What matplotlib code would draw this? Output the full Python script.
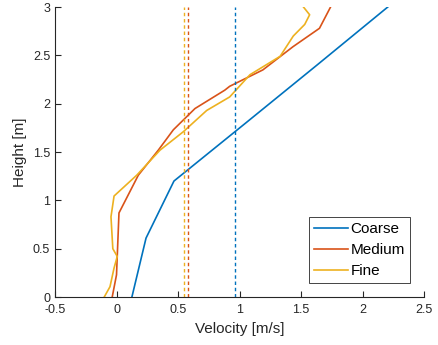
import matplotlib
matplotlib.use("Agg")
import matplotlib.pyplot as plt

plt.rcParams["font.family"] = ["Liberation Sans", "DejaVu Sans"]

# velocity profiles
coarse_v = [0.125, 0.24, 0.467, 1.05, 1.63, 2.205]
coarse_h = [0.0, 0.61, 1.20, 1.80, 2.40, 3.0]

medium_v = [-0.035, 0.0, 0.02, 0.177, 0.34, 0.462, 0.638, 0.88, 0.92, 1.19, 1.435, 1.65, 1.74]
medium_h = [0.0, 0.23, 0.87, 1.26, 1.52, 1.73, 1.95, 2.14, 2.18, 2.35, 2.59, 2.78, 3.0]

fine_v = [-0.10, -0.053, -0.02, 0.006, -0.03, -0.045, -0.02, 0.164, 0.354, 0.543, 0.733,
          0.92, 1.085, 1.33, 1.437, 1.53, 1.57, 1.52]
fine_h = [0.0, 0.107, 0.30, 0.42, 0.50, 0.83, 1.045, 1.26, 1.52, 1.71, 1.93,
          2.07, 2.30, 2.49, 2.70, 2.82, 2.92, 3.0]

# mean velocities (dashed lines)
mean_v = {"Coarse": 0.963, "Medium": 0.579, "Fine": 0.549}

colors = {"Coarse": "#0072BD", "Medium": "#D95319", "Fine": "#EDB120"}

fig = plt.figure(figsize=(4.38, 3.45), dpi=100)
ax = fig.add_axes([0.1256, 0.139, 0.8425, 0.8406])

ax.plot(coarse_v, coarse_h, color=colors["Coarse"], lw=1.2, label="Coarse")
ax.plot(medium_v, medium_h, color=colors["Medium"], lw=1.2, label="Medium")
ax.plot(fine_v, fine_h, color=colors["Fine"], lw=1.2, label="Fine")

for name in ["Coarse", "Medium", "Fine"]:
    ax.axvline(mean_v[name], color=colors[name], lw=1.0, ls=(0, (2.5, 2)))

ax.set_xlim(-0.5, 2.5)
ax.set_ylim(0, 3)
ax.set_xticks([-0.5, 0, 0.5, 1, 1.5, 2, 2.5])
ax.set_xticklabels(["-0.5", "0", "0.5", "1", "1.5", "2", "2.5"])
ax.set_yticks([0, 0.5, 1, 1.5, 2, 2.5, 3])
ax.set_yticklabels(["0", "0.5", "1", "1.5", "2", "2.5", "3"])

ax.spines["top"].set_visible(False)
ax.spines["right"].set_visible(False)
for s in ["left", "bottom"]:
    ax.spines[s].set_color("#262626")
    ax.spines[s].set_linewidth(0.8)
ax.tick_params(direction="in", length=4, width=0.8, colors="#262626", labelsize=9)
ax.tick_params(axis="x", pad=5)

ax.set_xlabel("Velocity [m/s]", fontsize=11, color="#262626")
ax.set_ylabel("Height [m]", fontsize=11, color="#262626")

leg = ax.legend(loc="lower right", fontsize=11, fancybox=False, edgecolor="#262626",
                framealpha=1, handlelength=2.2, borderaxespad=0.9, labelspacing=0.45,
                handletextpad=0.2, borderpad=0.35)
leg.get_frame().set_linewidth(0.6)

fig.savefig("out.png", dpi=100)
